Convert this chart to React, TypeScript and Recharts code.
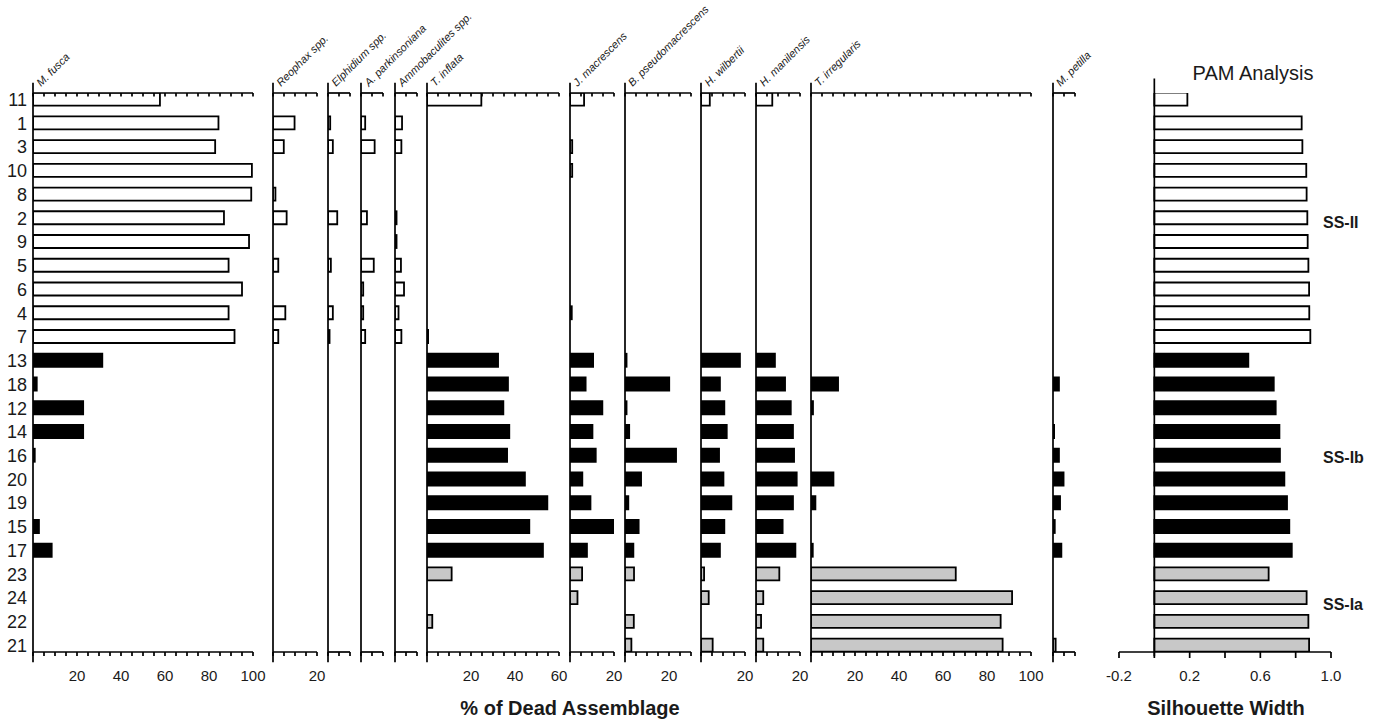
import React from "react";
import { BarChart, Bar, XAxis, YAxis, ReferenceLine, Cell } from "recharts";

// sample order, top to bottom
const samples = ["11", "1", "3", "10", "8", "2", "9", "5", "6", "4", "7", "13", "18", "12", "14", "16", "20", "19", "15", "17", "23", "24", "22", "21"];
const clusters = ["II", "II", "II", "II", "II", "II", "II", "II", "II", "II", "II", "Ib", "Ib", "Ib", "Ib", "Ib", "Ib", "Ib", "Ib", "Ib", "Ia", "Ia", "Ia", "Ia"];

// % of dead assemblage per species
const fusca = [57.7, 84.3, 82.8, 99.5, 99.2, 86.8, 98.2, 88.9, 95, 88.9, 91.6, 31.5, 1.7, 22.8, 22.8, 0.8, 0, 0, 2.7, 8.5, 0, 0, 0, 0];
const reophax = [0, 9.8, 4.9, 0, 1.1, 6.2, 0, 2.4, 0, 5.6, 2.4, 0, 0, 0, 0, 0, 0, 0, 0, 0, 0, 0, 0, 0];
const elphidium = [0, 1.0, 2.2, 0, 0, 4.2, 0, 1.3, 0, 2.2, 0.7, 0, 0, 0, 0, 0, 0, 0, 0, 0, 0, 0, 0, 0];
const parkinsoniana = [0, 1.9, 6.2, 0, 0, 2.7, 0, 5.8, 1.0, 1.0, 1.9, 0, 0, 0, 0, 0, 0, 0, 0, 0, 0, 0, 0, 0];
const ammobaculites = [0, 3.2, 2.9, 0, 0, 0.7, 0.7, 2.7, 4.1, 1.6, 2.9, 0, 0, 0, 0, 0, 0, 0, 0, 0, 0, 0, 0, 0];
const inflata = [24.7, 0, 0, 0, 0, 0, 0, 0, 0, 0, 0.5, 32.3, 36.8, 34.7, 37.4, 36.4, 44.5, 54.7, 46.5, 52.7, 11.2, 0, 2.4, 0];
const macrescens = [6.4, 0, 1.0, 1.0, 0, 0, 0, 0, 0, 0.8, 0, 10.5, 7.1, 14.7, 10.2, 11.7, 5.6, 9.3, 19.9, 7.7, 5.5, 3.4, 0, 0];
const pseudomacrescens = [0, 0, 0, 0, 0, 0, 0, 0, 0, 0, 0, 0.7, 20.1, 0.7, 1.9, 23.2, 7.3, 1.5, 6.2, 3.8, 4.1, 0, 4.0, 2.9];
const wilbertii = [4.0, 0, 0, 0, 0, 0, 0, 0, 0, 0, 0, 17.7, 8.6, 10.6, 11.7, 8.2, 10.2, 13.8, 10.6, 8.6, 1.4, 3.5, 0, 5.3];
const manilensis = [7.4, 0, 0, 0, 0, 0, 0, 0, 0, 0, 0, 8.6, 13.2, 15.8, 16.8, 17.3, 18.5, 16.8, 12.1, 17.9, 10.6, 3.3, 2.3, 3.3];
const irregularis = [0, 0, 0, 0, 0, 0, 0, 0, 0, 0, 0, 0, 12.3, 0.9, 0, 0, 10.2, 2.0, 0, 0.8, 65.8, 91.4, 86.2, 87.1];
const petilla = [0, 0, 0, 0, 0, 0, 0, 0, 0, 0, 0, 0, 2.7, 0, 0.5, 2.7, 4.8, 3.2, 0.8, 3.8, 0, 0, 0, 1.2];

// PAM silhouette widths
const silhouette = [0.187, 0.834, 0.838, 0.86, 0.862, 0.866, 0.868, 0.872, 0.876, 0.877, 0.883, 0.532, 0.676, 0.687, 0.708, 0.711, 0.736, 0.751, 0.764, 0.778, 0.647, 0.862, 0.872, 0.876];
const silTicks = [-0.2, 0, 0.2, 0.4, 0.6, 0.8, 1.0];
const silLabels = [-0.2, 0.2, 0.6, 1.0];

const rows = samples.map((s, i) => ({
  i,
  sample: s,
  fusca: fusca[i],
  reophax: reophax[i],
  elphidium: elphidium[i],
  parkinsoniana: parkinsoniana[i],
  ammobaculites: ammobaculites[i],
  inflata: inflata[i],
  macrescens: macrescens[i],
  pseudomacrescens: pseudomacrescens[i],
  wilbertii: wilbertii[i],
  manilensis: manilensis[i],
  irregularis: irregularis[i],
  petilla: petilla[i],
  silhouette: silhouette[i],
}));
const rowIdx = rows.map((r) => r.i);

const FONT = '"Liberation Sans", Arial, Helvetica, sans-serif';
const INK = "#1a1a1a";
const H = 726;
const PX = 2.2; // px per percent
const fills: Record<string, string> = { II: "#ffffff", Ib: "#000000", Ia: "#c8c8c8" };

type P = { key: string; title: string; x: number; max: number; labels: number[]; rowLabels?: boolean };

const panels: P[] = [
  { key: "fusca", title: "M. fusca", x: 33, max: 100, labels: [20, 40, 60, 80, 100], rowLabels: true },
  { key: "reophax", title: "Reophax spp.", x: 273, max: 20, labels: [20] },
  { key: "elphidium", title: "Elphidium spp.", x: 328, max: 10, labels: [] },
  { key: "parkinsoniana", title: "A. parkinsoniana", x: 361, max: 10, labels: [] },
  { key: "ammobaculites", title: "Ammobaculites spp.", x: 394.5, max: 10, labels: [] },
  { key: "inflata", title: "T. inflata", x: 427, max: 60, labels: [20, 40, 60] },
  { key: "macrescens", title: "J. macrescens", x: 569.5, max: 20, labels: [20] },
  { key: "pseudomacrescens", title: "B. pseudomacrescens", x: 624.5, max: 30, labels: [20] },
  { key: "wilbertii", title: "H. wilbertii", x: 701, max: 20, labels: [20] },
  { key: "manilensis", title: "H. manilensis", x: 756, max: 20, labels: [20] },
  { key: "irregularis", title: "T. irregularis", x: 811, max: 100, labels: [20, 40, 60, 80, 100] },
  { key: "petilla", title: "M. petilla", x: 1052.5, max: 10, labels: [] },
];

const Y_DOMAIN: [number, number] = [-0.27, 23.27];
const axisStyle = { stroke: "#000", strokeWidth: 1.7 };
const BAR_STROKE = 1.8;

const TopTick = (props: any) => (
  <line x1={props.x} x2={props.x} y1={props.y} y2={props.y + 3.5} stroke="#000" strokeWidth={1.7} />
);

function SpeciesPanel({ p }: { p: P }) {
  const w = p.max * PX;
  const yw = p.rowLabels ? p.x : 0;
  const ml = p.rowLabels ? 0 : 12;
  const mr = 16;
  const ticks: number[] = [];
  for (let t = 0; t <= p.max; t += 5) ticks.push(t);
  return (
    <div style={{ position: "absolute", left: p.x - yw - ml, top: 0 }}>
      <BarChart
        layout="vertical"
        width={ml + yw + w + mr}
        height={H}
        data={rows}
        margin={{ top: 92, bottom: 44, left: ml, right: mr }}
        barSize={13}
      >
        <XAxis
          xAxisId="t"
          orientation="top"
          type="number"
          domain={[0, p.max]}
          ticks={ticks}
          interval={0}
          height={1}
          tickSize={0}
          tickMargin={0}
          tickLine={false}
          tick={TopTick}
          axisLine={axisStyle}
          allowDataOverflow
        />
        <XAxis
          xAxisId="b"
          orientation="bottom"
          type="number"
          domain={[0, p.max]}
          ticks={ticks}
          interval={0}
          height={30}
          tickSize={4}
          tickMargin={14}
          tickLine={axisStyle}
          axisLine={axisStyle}
          tick={{ fontSize: 15, fill: INK, fontFamily: FONT }}
          tickFormatter={(v: number) => (p.labels.includes(v) ? String(v) : "")}
          allowDataOverflow
        />
        <YAxis
          type="number"
          dataKey="i"
          domain={Y_DOMAIN}
          ticks={rowIdx}
          interval={0}
          allowDataOverflow
          hide={!p.rowLabels}
          width={yw}
          axisLine={false}
          tickLine={false}
          tickSize={0}
          tickMargin={6}
          tick={{ fontSize: 18, fill: INK, fontFamily: FONT }}
          tickFormatter={(v: number) => samples[v] ?? ""}
        />
        <ReferenceLine
          xAxisId="b"
          segment={[{ x: 0, y: -0.7 }, { x: 0, y: 23.7 }]}
          ifOverflow="visible"
          stroke="#000"
          strokeWidth={1.7}
        />
        <Bar dataKey={p.key} xAxisId="b" stroke="#000" strokeWidth={BAR_STROKE} isAnimationActive={false}>
          {rows.map((r) => (
            <Cell key={r.sample} fill={fills[clusters[r.i]]} />
          ))}
        </Bar>
      </BarChart>
    </div>
  );
}

function BlankPanel() {
  return (
    <div style={{ position: "absolute", left: 1086, top: 0 }}>
      <BarChart layout="vertical" width={30} height={H} data={rows} margin={{ top: 93, bottom: 74, left: 10, right: 10 }}>
        <XAxis xAxisId="b" type="number" domain={[0, 10]} hide height={0} />
        <YAxis type="number" dataKey="i" domain={Y_DOMAIN} hide width={0} allowDataOverflow />
        <ReferenceLine
          xAxisId="b"
          segment={[{ x: 0, y: -0.7 }, { x: 0, y: 23.27 }]}
          ifOverflow="visible"
          stroke="#000"
          strokeWidth={1.7}
        />
      </BarChart>
    </div>
  );
}

function PamPanel() {
  const left = 1119;
  const w = 212;
  return (
    <div style={{ position: "absolute", left: left - 20, top: 0 }}>
      <BarChart
        layout="vertical"
        width={w + 40}
        height={H}
        data={rows}
        margin={{ top: 93, bottom: 44, left: 20, right: 20 }}
        barSize={13}
      >
        <XAxis
          xAxisId="b"
          orientation="bottom"
          type="number"
          domain={[-0.2, 1.0]}
          ticks={silTicks}
          interval={0}
          height={30}
          tickSize={6}
          tickMargin={12}
          tickLine={axisStyle}
          axisLine={axisStyle}
          tick={{ fontSize: 15, fill: INK, fontFamily: FONT }}
          tickFormatter={(v: number) => (silLabels.some((l) => Math.abs(l - v) < 1e-6) ? v.toFixed(1) : "")}
          allowDataOverflow
        />
        <YAxis type="number" dataKey="i" domain={Y_DOMAIN} ticks={rowIdx} hide width={0} allowDataOverflow />
        <ReferenceLine
          xAxisId="b"
          segment={[{ x: 0, y: -0.88 }, { x: 0, y: 23.45 }]}
          ifOverflow="visible"
          stroke="#000"
          strokeWidth={1.7}
        />
        <Bar dataKey="silhouette" xAxisId="b" stroke="#000" strokeWidth={BAR_STROKE} isAnimationActive={false}>
          {rows.map((r) => (
            <Cell key={r.sample} fill={fills[clusters[r.i]]} />
          ))}
        </Bar>
      </BarChart>
    </div>
  );
}

export default function App() {
  return (
    <div
      style={{
        position: "absolute",
        left: 0,
        top: 0,
        width: 1375,
        height: H,
        background: "#fff",
        fontFamily: FONT,
        overflow: "hidden",
      }}
    >
      {panels.map((p) => (
        <SpeciesPanel key={p.key} p={p} />
      ))}
      <BlankPanel />
      <PamPanel />
      <svg width={1375} height={H} style={{ position: "absolute", left: 0, top: 0, pointerEvents: "none" }}>
        {panels.map((p) => (
          <text
            key={p.key}
            transform={`translate(${p.x + 8},87) rotate(-45)`}
            fontSize={11}
            fontStyle="italic"
            fill={INK}
            fontFamily={FONT}
          >
            {p.title}
          </text>
        ))}
        <text x={1253} y={80} textAnchor="middle" fontSize={20} fill={INK} fontFamily={FONT}>
          PAM Analysis
        </text>
        <text x={1323} y={228} fontSize={16} fontWeight="bold" fill={INK} fontFamily={FONT}>
          SS-II
        </text>
        <text x={1323} y={463} fontSize={16} fontWeight="bold" fill={INK} fontFamily={FONT}>
          SS-Ib
        </text>
        <text x={1323} y={610} fontSize={16} fontWeight="bold" fill={INK} fontFamily={FONT}>
          SS-Ia
        </text>
        <text x={570} y={715} textAnchor="middle" fontSize={20} fontWeight="bold" fill={INK} fontFamily={FONT}>
          % of Dead Assemblage
        </text>
        <text x={1226} y={715} textAnchor="middle" fontSize={20} fontWeight="bold" fill={INK} fontFamily={FONT}>
          Silhouette Width
        </text>
      </svg>
    </div>
  );
}
